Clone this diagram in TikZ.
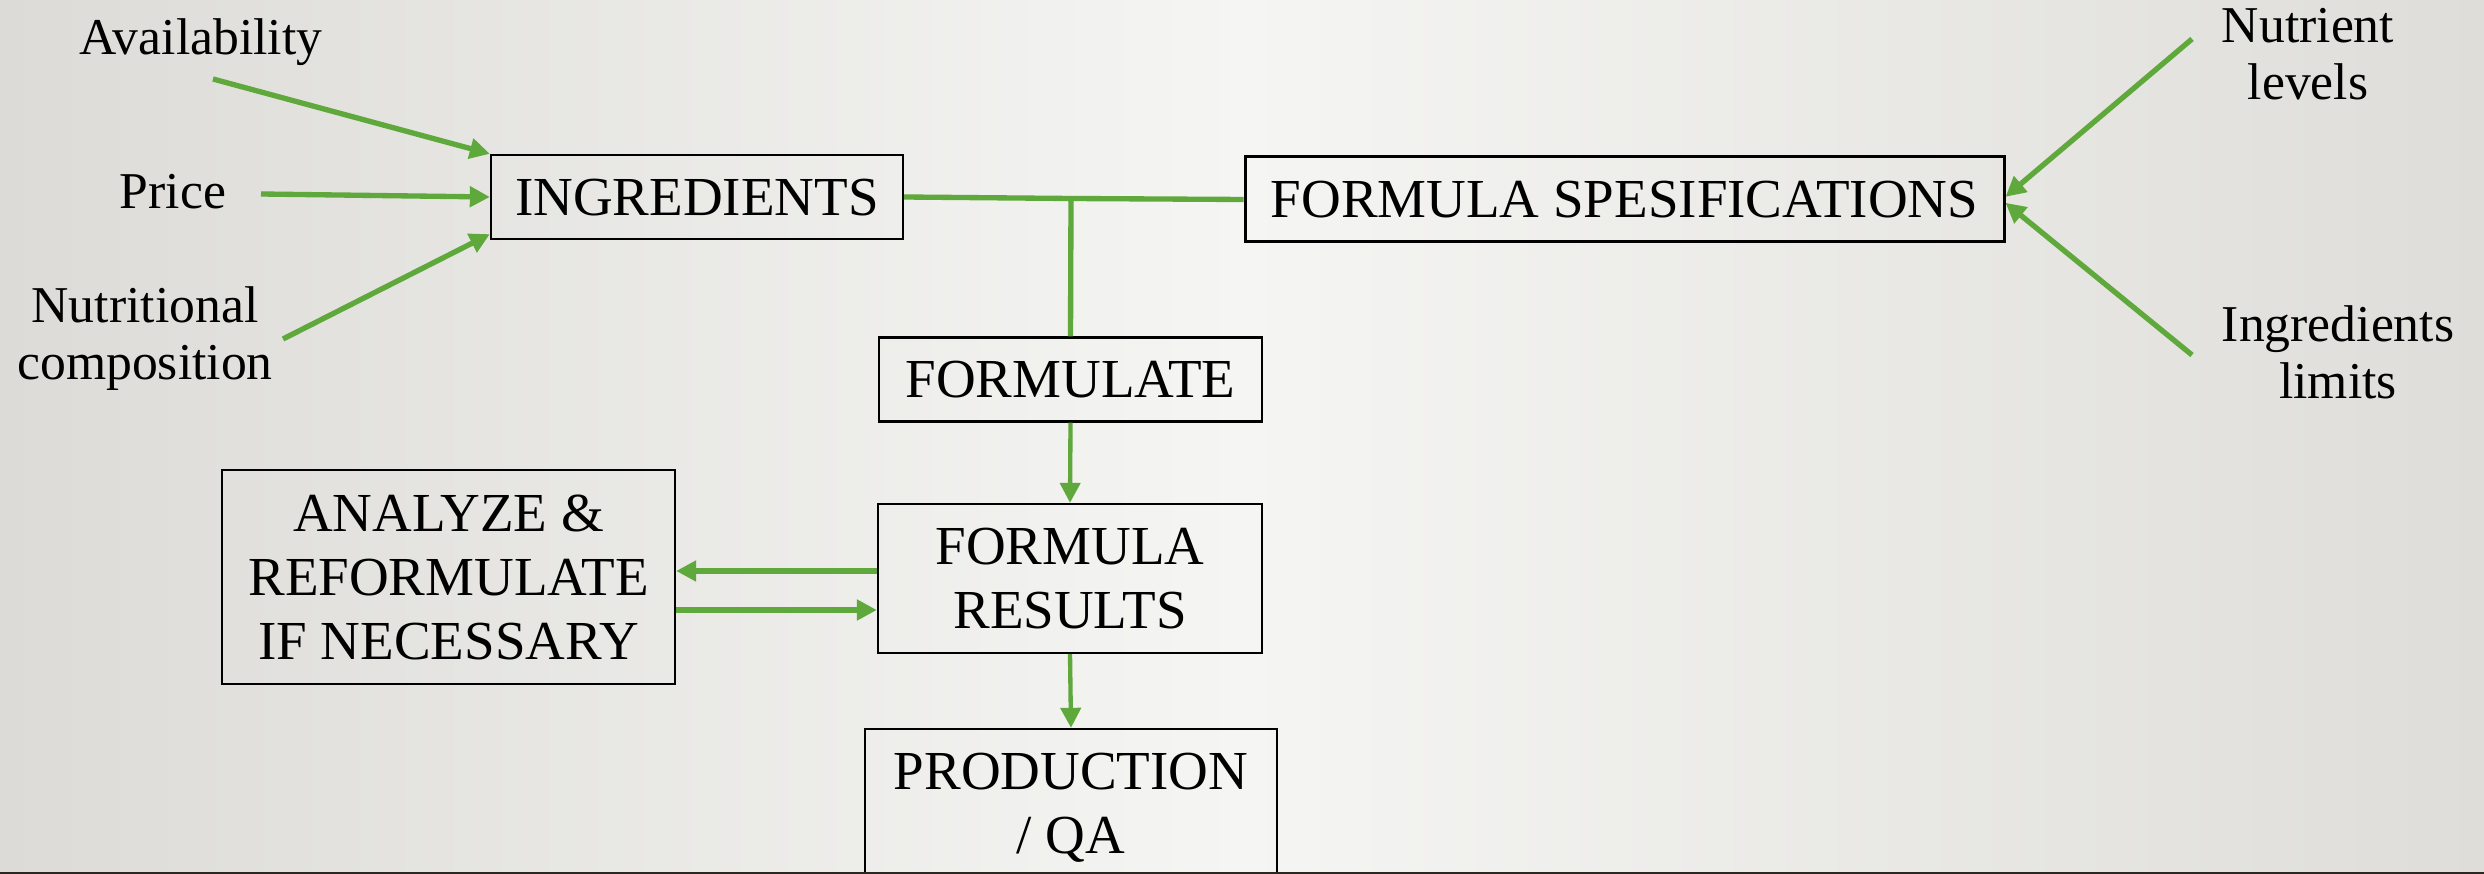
\documentclass[tikz,border=0pt]{standalone}
\usepackage{fontspec}
\setmainfont{Liberation Serif}
\usetikzlibrary{arrows.meta}
\definecolor{grn}{RGB}{95,168,59}
\definecolor{bgL}{RGB}{220,219,215}
\definecolor{bgM}{RGB}{245,245,243}
\definecolor{bgR}{RGB}{222,221,217}
\definecolor{edgec}{RGB}{43,39,32}
\begin{document}
\begin{tikzpicture}[x=0.3pt,y=-0.3pt,
  box/.style={draw=black, line width=0.7pt, inner sep=0pt, align=center, text depth=0pt, font=\fontsize{16.5}{19.2}\selectfont},
  lbl/.style={inner sep=0pt, align=center, font=\fontsize{15.5}{17.1}\selectfont},
  conn/.style={draw=grn, line width=1.6pt},
  arr/.style={conn, -{Triangle[length=6pt,width=6pt]}}]
\clip (0,0) rectangle (2484,874);
\shade[left color=bgL, right color=bgR, middle color=bgM] (0,0) rectangle (2484,874);

% boxes
\node[box, minimum width=123.6pt, minimum height=25.2pt] (ing) at (697,197) {INGREDIENTS};
\node[box, line width=0.9pt, minimum width=227.7pt, minimum height=25.5pt] (spec) at (1624.5,199.5) {FORMULA SPESIFICATIONS};
\node[box, minimum width=114.9pt, minimum height=25.2pt] (fmt) at (1070.5,379.5) {FORMULATE};
\node[box, minimum width=115.2pt, minimum height=44.7pt] (res) at (1070,578.5) {FORMULA\\RESULTS};
\node[box, minimum width=135.9pt, minimum height=64.2pt] (ana) at (448.5,577) {ANALYZE \&\\REFORMULATE\\IF NECESSARY};
\node[box, minimum width=123.6pt, minimum height=44.7pt] (prod) at (1071,803.5) {PRODUCTION\\/ QA};

% labels
\node[lbl, anchor=base] (avail) at (201,55) {Availability};
\node[lbl, anchor=base] (price) at (173,209) {Price};
\node[lbl] (nutc) at (145,338.5) {Nutritional\\composition};
\node[lbl] (nlev) at (2308,53.9) {Nutrient\\levels};
\node[lbl] (ilim) at (2338,351.9) {Ingredients\\limits};

% free ends
\coordinate (a1) at (213,79);
\coordinate (a2) at (261,194);
\coordinate (a3) at (283,339);
\coordinate (a4) at (2192,39);
\coordinate (a5) at (2192,355);
\coordinate (j) at (1071,198.5);
\coordinate (u) at (0,571);
\coordinate (v) at (0,610);

% connectors
\draw[arr] (a1) -- (ing.north west);
\draw[arr] (a2) -- (ing.west);
\draw[arr] (a3) -- ([yshift=1.8pt]ing.south west);
\draw[arr] (a4) -- ([yshift=0.8pt]spec.east);
\draw[arr] (a5) -- ([yshift=-1pt]spec.east);
\draw[conn] (ing.east) -- (j) -- (spec.west);
\draw[conn] (j) -- (fmt.north);
\draw[arr, line width=1.3pt] (fmt.south) -- (res.north);
\draw[arr, line width=1.9pt] (res.west |- u) -- (ana.east |- u);
\draw[arr, line width=1.9pt] (ana.east |- v) -- (res.west |- v);
\draw[arr, line width=1.3pt] (res.south) -- (prod.north);

\fill[edgec] (0,871.5) rectangle (2484,874);
\end{tikzpicture}
\end{document}
